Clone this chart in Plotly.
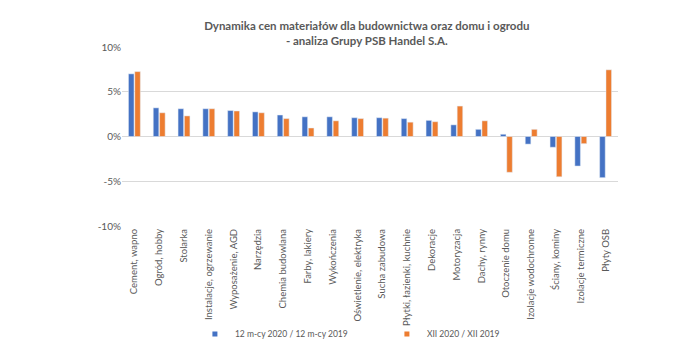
import plotly.graph_objects as go

categories = ["Cement, wapno", "Ogród, hobby", "Stolarka", "Instalacje, ogrzewanie",
              "Wyposażenie, AGD", "Narzędzia", "Chemia budowlana", "Farby, lakiery",
              "Wykończenia", "Oświetlenie, elektryka", "Sucha zabudowa",
              "Płytki, łazienki, kuchnie", "Dekoracje", "Motoryzacja", "Dachy, rynny",
              "Otoczenie domu", "Izolacje wodochronne", "Ściany, kominy",
              "Izolacje termiczne", "Płyty OSB"]

series_12m = [7.0, 3.2, 3.1, 3.1, 2.9, 2.75, 2.4, 2.2, 2.2, 2.1, 2.1, 2.0, 1.8, 1.3,
              0.8, 0.25, -0.85, -1.2, -3.3, -4.6]
series_xii = [7.25, 2.65, 2.3, 3.1, 2.85, 2.65, 2.0, 0.95, 1.75, 2.0, 2.05, 1.6, 1.65, 3.4,
              1.75, -4.0, 0.8, -4.5, -0.8, 7.45]

name_12m = "12 m-cy 2020 / 12 m-cy 2019"
name_xii = "XII 2020 / XII 2019"

tick_vals = [-10, -5, 0, 5, 10]
tick_labels = ["-10%", "-5%", "0%", "5%", "10%"]

title_text = "Dynamika cen materiałów dla budownictwa oraz domu i ogrodu<br>- analiza Grupy PSB Handel S.A."

font_family = "Lato, 'Open Sans', sans-serif"
grey = "#595959"
blue = "#4472C4"
orange = "#ED7D31"

fig = go.Figure()
fig.add_trace(go.Bar(x=categories, y=series_12m, name=name_12m, marker_color=blue,
                     showlegend=False, legendgroup="a"))
fig.add_trace(go.Bar(x=categories, y=series_xii, name=name_xii, marker_color=orange,
                     showlegend=False, legendgroup="b"))
# legend entries with small square swatches
fig.add_trace(go.Scatter(x=[None], y=[None], mode="markers", name=name_12m, legendgroup="a",
                         marker=dict(symbol="square", size=5, color=blue)))
fig.add_trace(go.Scatter(x=[None], y=[None], mode="markers", name=name_xii, legendgroup="b",
                         marker=dict(symbol="square", size=5, color=orange)))

fig.update_layout(
    width=700, height=350,
    margin=dict(l=122, r=82, t=47, b=124, autoexpand=False),
    paper_bgcolor="white", plot_bgcolor="white",
    barmode="group", bargap=0.49, bargroupgap=0.12,
    font=dict(family=font_family, color=grey, size=10),
    title=dict(text="<b>" + title_text + "</b>", x=0.524, xanchor="center",
               y=0.913, yanchor="middle", font=dict(size=11.5, color=grey)),
    xaxis=dict(tickangle=-90, tickfont=dict(size=9.5, color=grey), showgrid=False,
               showline=False, ticks="", automargin=False),
    yaxis=dict(range=[-10, 10], tickvals=tick_vals, ticktext=tick_labels,
               showgrid=True, gridcolor="#d9d9d9", gridwidth=1,
               zeroline=True, zerolinecolor="#d9d9d9", zerolinewidth=1,
               tickfont=dict(size=10, color=grey), ticks="", automargin=False),
    legend=dict(orientation="h", x=0.147, xanchor="left", y=-0.603, yanchor="middle",
                font=dict(size=8.5, color=grey), entrywidth=147, entrywidthmode="pixels",
                itemwidth=30, bgcolor="rgba(0,0,0,0)"),
    showlegend=True,
)

fig.write_html("out.html")
